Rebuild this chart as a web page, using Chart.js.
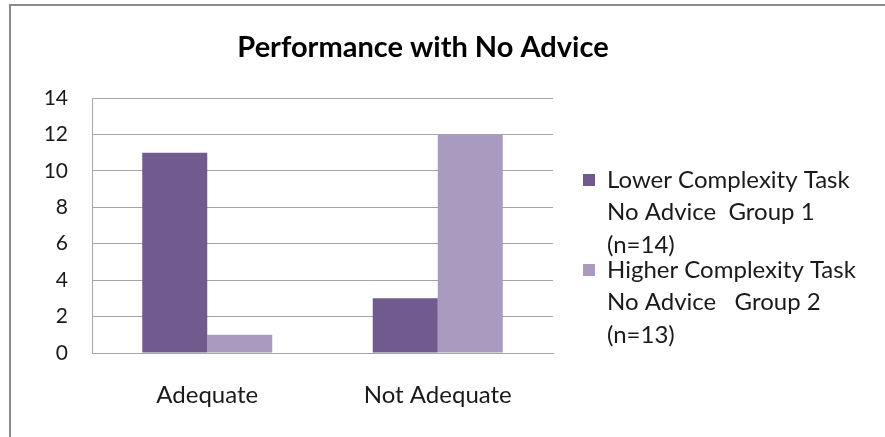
<!DOCTYPE html>
<html>
<head>
<meta charset="utf-8">
<script src="https://cdn.jsdelivr.net/npm/chart.js@4/dist/chart.umd.min.js"></script>
<style>
  html, body { margin: 0; padding: 0; background: #ffffff; }
  #wrap { width: 885px; height: 437px; position: relative; }
</style>
</head>
<body>
<div id="wrap"><canvas id="c" width="885" height="437"></canvas></div>
<script>
// Counts of participants per outcome
const categories = ['Adequate', 'Not Adequate'];
const lowerComplexity = [11, 3];
const higherComplexity = [1, 12];
const seriesNames = [
  ['Lower Complexity Task', 'No Advice  Group 1', '(n=14)'],
  ['Higher Complexity Task', 'No Advice   Group 2', '(n=13)']
];
const yMin = 0, yMax = 14, yStep = 2;
const chartTitle = 'Performance with No Advice';

const FONT = 'Lato, "Open Sans", sans-serif';
const darkPurple = '#715a8e';
const lightPurple = '#a99abf';
const gridGray = '#a6a6a6';

// Frame, title and the multi-line legend on the right
const decor = {
  id: 'decor',
  beforeDraw(chart) {
    const ctx = chart.ctx;
    ctx.save();
    ctx.fillStyle = '#ffffff';
    ctx.fillRect(0, 0, chart.width, chart.height);
    ctx.restore();
  },
  afterDraw(chart) {
    const ctx = chart.ctx;
    ctx.save();
    ctx.strokeStyle = '#8a8a8a';
    ctx.lineWidth = 2;
    ctx.beginPath();
    ctx.moveTo(10, chart.height);
    ctx.lineTo(10, 5);
    ctx.lineTo(chart.width, 5);
    ctx.stroke();

    ctx.fillStyle = '#000000';
    ctx.textAlign = 'center';
    ctx.textBaseline = 'middle';
    ctx.font = 'bold 29px ' + FONT;
    ctx.fillText(chartTitle, 423, 48);

    ctx.textAlign = 'left';
    ctx.font = '24px ' + FONT;
    chart.data.datasets.forEach((ds, i) => {
      const top = 180 + i * 90;
      ctx.fillStyle = ds.backgroundColor;
      ctx.fillRect(583, top - 6, 12, 12);
      ctx.fillStyle = '#1a1a1a';
      ds.label.forEach((line, k) => {
        ctx.fillText(line, 607, top + k * 32.5);
      });
    });
    ctx.restore();
  }
};

new Chart(document.getElementById('c'), {
  type: 'bar',
  data: {
    labels: categories,
    datasets: [
      { label: seriesNames[0], data: lowerComplexity, backgroundColor: darkPurple },
      { label: seriesNames[1], data: higherComplexity, backgroundColor: lightPurple }
    ]
  },
  options: {
    responsive: false,
    animation: false,
    devicePixelRatio: 1,
    layout: { padding: { left: 0, right: 332, top: 98, bottom: 0 } },
    datasets: { bar: { categoryPercentage: 0.564, barPercentage: 1.0 } },
    plugins: { legend: { display: false }, title: { display: false }, tooltip: { enabled: false } },
    scales: {
      x: {
        grid: { display: false, drawTicks: false },
        border: { display: true, color: gridGray, width: 1 },
        ticks: { color: '#1a1a1a', font: { family: FONT, size: 24 }, padding: 28 },
        afterFit(scale) { scale.height = 84; }
      },
      y: {
        min: yMin, max: yMax,
        grid: { color: gridGray, drawTicks: false },
        border: { display: true, color: gridGray, width: 1 },
        ticks: { stepSize: yStep, color: '#1a1a1a', font: { family: FONT, size: 21 }, padding: 24 },
        afterFit(scale) { scale.width = 92; }
      }
    }
  },
  plugins: [decor]
});
</script>
</body>
</html>
